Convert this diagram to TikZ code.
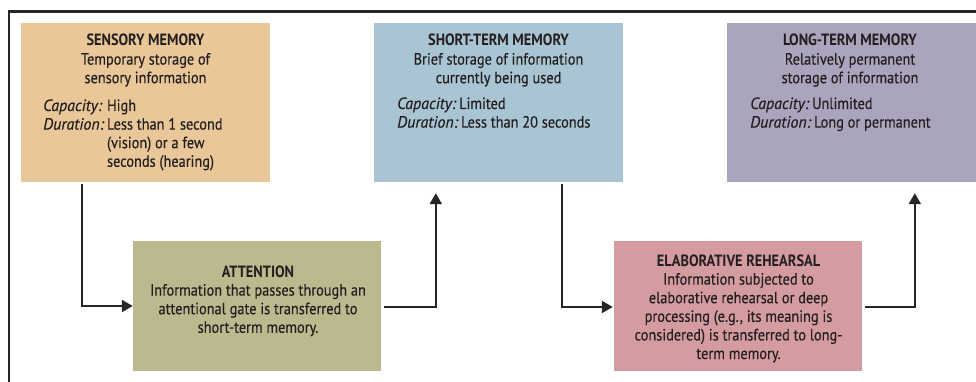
\documentclass[tikz,border=0pt]{standalone}
\usepackage{fontspec}
\setmainfont{PT Sans}[
  UprightFeatures={FakeStretch=0.88,FakeBold=0.35},
  BoldFeatures={FakeStretch=0.88},
  ItalicFeatures={FakeStretch=0.98,FakeBold=0.35}]
\usetikzlibrary{arrows.meta,calc}

\definecolor{inkdark}{HTML}{231F20}
\definecolor{linedark}{HTML}{262626}
\definecolor{sensoryfill}{HTML}{EAC798}
\definecolor{shortfill}{HTML}{A9C5D3}
\definecolor{longfill}{HTML}{AAA4BC}
\definecolor{attnfill}{HTML}{BDB98F}
\definecolor{elabfill}{HTML}{D49BA1}

\newcommand{\boxfont}{\fontsize{16.3}{18.6}\selectfont}

\begin{document}
\begin{tikzpicture}[x=1pt,y=-1pt,
  stagebox/.style={draw=none,inner sep=0pt,minimum width=249pt,minimum height=159pt},
  procbox/.style={draw=none,inner sep=0pt,minimum width=248pt,minimum height=130pt},
  boxtext/.style={inner sep=0pt,text=inkdark,font=\boxfont},
  flow/.style={draw=linedark,line width=2.2pt,-{Triangle[length=11pt,width=12pt]}}]

\useasboundingbox (0,0) rectangle (976,382);

% outer frame: top and left rules
\draw[line width=2.5pt,linedark] (9,382) -- (9,11.5) -- (976,11.5);

% memory stores
\node[stagebox,fill=sensoryfill] (sm)  at (145.5,102.5) {};
\node[stagebox,fill=shortfill]   (stm) at (498.5,102.5) {};
\node[stagebox,fill=longfill]    (ltm) at (851.5,102.5) {};

% processes between stores
\node[procbox,fill=attnfill] (att) at (257,306) {};
\node[procbox,fill=elabfill] (er)  at (738,306) {};

% sensory memory text
\node[boxtext,anchor=base] (smhead) at (145.5,46)
  {\begin{tabular}[t]{@{}c@{}}\textbf{SENSORY MEMORY}\\Temporary storage of\\sensory information\end{tabular}};
\node[boxtext,anchor=base west] (smdet) at (43,111)
  {\begin{tabular}[t]{@{}l@{\,}l@{}}\textit{Capacity:} & High\\
   \textit{Duration:} & Less than 1 second\\ & (vision) or a few\\ & seconds (hearing)\end{tabular}};

% short-term memory text
\node[boxtext,anchor=base] (stmhead) at (498.5,46)
  {\begin{tabular}[t]{@{}c@{}}\textbf{SHORT-TERM MEMORY}\\Brief storage of information\\currently being used\end{tabular}};
\node[boxtext,anchor=base west] (stmdet) at (397,109)
  {\begin{tabular}[t]{@{}l@{}}\textit{Capacity:}\,Limited\\
   \textit{Duration:}\,Less than 20 seconds\end{tabular}};

% long-term memory text
\node[boxtext,anchor=base] (ltmhead) at (850,46)
  {\begin{tabular}[t]{@{}c@{}}\textbf{LONG-TERM MEMORY}\\Relatively permanent\\storage of information\end{tabular}};
\node[boxtext,anchor=base west] (ltmdet) at (750,109)
  {\begin{tabular}[t]{@{}l@{}}\textit{Capacity:}\,Unlimited\\
   \textit{Duration:}\,Long or permanent\end{tabular}};

% attention text
\node[boxtext,anchor=base] (atttext) at (258,277)
  {\begin{tabular}[t]{@{}c@{}}\textbf{ATTENTION}\\Information that passes through an\\attentional gate is transferred to\\short-term memory.\end{tabular}};

% elaborative rehearsal text
\node[boxtext,anchor=base] (ertext) at (738.5,266)
  {\begin{tabular}[t]{@{}c@{}}\textbf{ELABORATIVE REHEARSAL}\\Information subjected to\\elaborative rehearsal or deep\\processing (e.g., its meaning is\\considered) is transferred to long-\\term memory.\end{tabular}};

% connectors
\draw[flow] ($(sm.south west)+(61,2)$) |- (att.west);
\draw[flow] ($(att.east)+(3,1)$) -| ($(stm.south west)+(62,11)$);
\draw[flow] ($(stm.south west)+(188,2)$) |- ($(er.west)+(-1,1)$);
\draw[flow] ($(er.east)+(3,1)$) -| ($(ltm.south west)+(188,11)$);

\end{tikzpicture}
\end{document}
